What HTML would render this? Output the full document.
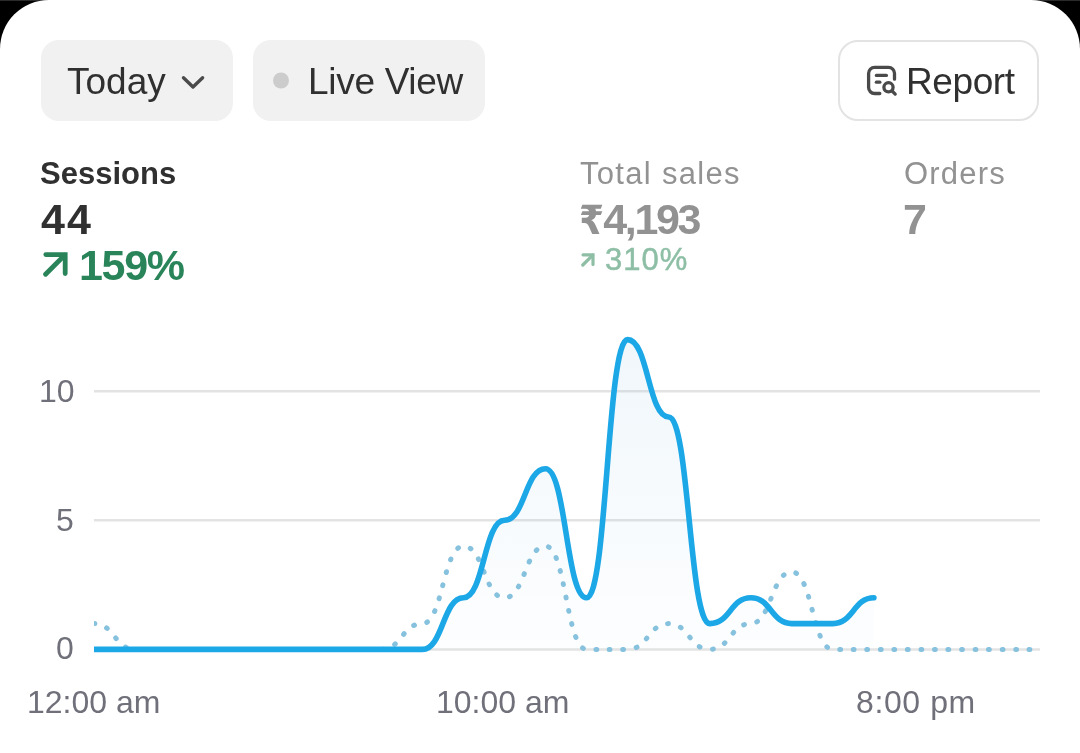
<!DOCTYPE html>
<html lang="en">
<head>
<meta charset="utf-8">
<title>Analytics</title>
<style>
*{box-sizing:border-box;margin:0;padding:0}
html,body{width:1080px;height:753px;overflow:hidden;background:#000}
body{background:linear-gradient(#2b2b2b 0,#2b2b2b 1px,#000 1px,#000 100%)}
body{font-family:"Liberation Sans","DejaVu Sans",sans-serif;color:#303030;position:relative}
.card{position:absolute;left:0;top:0;width:1080px;height:753px;background:#fff;border-radius:49px 49px 0 0;overflow:hidden}
.btn{position:absolute;top:40px;height:81px;background:#f1f1f1;border-radius:18px}
.t{position:absolute;white-space:nowrap;line-height:1}
.b{font-size:37px;top:63px;color:#303030}
.lab{font-size:31px;top:158px}
.val{font-size:43px;font-weight:bold;top:198px}
.gray{color:#929292}
.axis{font-size:32px;color:#70707b}
svg{position:absolute;left:0;top:0}
</style>
</head>
<body>
<div class="card">
  <div class="btn" style="left:41px;width:192px"></div>
  <div class="btn" style="left:253px;width:232px"></div>
  <div class="btn" style="left:838px;width:201px;background:#fff;border:2px solid #e3e3e3;border-radius:20px"></div>
  <div class="t b" id="today" style="left:67px">Today</div>
  <div class="t b" id="live" style="left:308px;letter-spacing:-0.3px">Live View</div>
  <div class="t b" id="report" style="left:906px;letter-spacing:-0.4px">Report</div>

  <div class="t lab" id="sessions" style="left:40px;font-weight:bold">Sessions</div>
  <div class="t val" id="v44" style="left:41px;letter-spacing:2px">44</div>
  <div class="t" id="p159" style="left:79px;top:244px;font-size:43px;font-weight:bold;color:#29845a;letter-spacing:-1.3px">159%</div>

  <div class="t lab gray" id="total" style="left:580px;letter-spacing:1.3px">Total sales</div>
  <div class="t val gray" id="v4193" style="left:579px;letter-spacing:-2.4px"><span style="display:inline-block;font-family:'DejaVu Sans',sans-serif;font-size:40px;letter-spacing:0;transform:scaleX(0.9);transform-origin:0 50%;margin-right:-3.5px">₹</span>4,193</div>
  <div class="t" id="p310" style="left:605px;top:244px;font-size:31px;color:#8ebfa6;letter-spacing:1px;-webkit-text-stroke:0.5px #8ebfa6">310%</div>

  <div class="t lab gray" id="orders" style="left:904px;letter-spacing:1.2px">Orders</div>
  <div class="t val gray" id="v7" style="left:903px">7</div>

  <svg width="1080" height="753" viewBox="0 0 1080 753">
    <defs>
      <linearGradient id="ar" x1="0" y1="339" x2="0" y2="649" gradientUnits="userSpaceOnUse">
        <stop offset="0" stop-color="#64aad7" stop-opacity="0.095"/><stop offset="1" stop-color="#64aad7" stop-opacity="0.015"/>
      </linearGradient>
      <clipPath id="cp"><rect x="94" y="300" width="960" height="360"/></clipPath>
    </defs>
    <!-- icons -->
    <path d="M183.5 77.8 L193 87 L202.6 77.8" fill="none" stroke="#4a4a4a" stroke-width="3.4" stroke-linecap="round" stroke-linejoin="round"/>
    <circle cx="281" cy="80.5" r="8" fill="#cccccc"/>
    <g fill="none" stroke="#4a4a4a" stroke-width="3.3" stroke-linecap="round" stroke-linejoin="round">
      <path d="M879.8 93.5 H874.6 A6 6 0 0 1 868.6 87.5 V73.3 A6 6 0 0 1 874.6 67.3 H888.5 A6 6 0 0 1 894.5 73.3 V79.2"/>
      <path d="M876.4 75.4 H886.4"/>
      <path d="M876.4 82.2 H879.8"/>
      <circle cx="888.5" cy="87.3" r="4.6"/>
      <path d="M892 90.8 L895.2 94.1"/>
    </g>
    <g fill="none" stroke="#29845a" stroke-width="4.8" stroke-linecap="round" stroke-linejoin="miter">
      <path d="M45.8 254.6 H65.2 V273.5"/><path d="M64.5 255.3 L45.6 274.2"/>
    </g>
    <g fill="none" stroke="#8ebfa6" stroke-width="3.2" stroke-linecap="round" stroke-linejoin="miter">
      <path d="M583 254.8 H593 V264.5"/><path d="M592.5 255.3 L582.8 265"/>
    </g>
    <!-- chart -->
    <g stroke="#e3e3e3" stroke-width="2.5">
      <path d="M94 391.2 H1040"/><path d="M94 520.3 H1040"/><path d="M94 649.4 H1040"/>
    </g>
    <g clip-path="url(#cp)">
    <path d="M94.0 649.4 C114.5 649.4 114.5 649.4 135.1 649.4 C155.6 649.4 155.6 649.4 176.1 649.4 C196.6 649.4 196.6 649.4 217.1 649.4 C237.7 649.4 237.7 649.4 258.2 649.4 C278.7 649.4 278.7 649.4 299.2 649.4 C319.8 649.4 319.8 649.4 340.3 649.4 C360.8 649.4 360.8 649.4 381.3 649.4 C401.9 649.4 401.9 649.4 422.4 649.4 C442.9 649.4 442.9 597.8 463.4 597.8 C484.0 597.8 484.0 520.3 504.5 520.3 C525.0 520.3 525.0 468.7 545.5 468.7 C566.1 468.7 566.1 597.8 586.6 597.8 C607.1 597.8 607.1 339.6 627.6 339.6 C648.2 339.6 648.2 417.0 668.7 417.0 C689.2 417.0 689.2 623.6 709.8 623.6 C730.3 623.6 730.3 597.8 750.8 597.8 C771.3 597.8 771.3 623.6 791.8 623.6 C812.4 623.6 812.4 623.6 832.9 623.6 C853.4 623.6 853.4 597.8 873.9 597.8 L873.9 649.4 L94.0 649.4 Z" fill="url(#ar)"/>
    <path d="M94.0 623.6 C114.5 623.6 114.5 649.4 135.1 649.4 C155.6 649.4 155.6 649.4 176.1 649.4 C196.6 649.4 196.6 649.4 217.1 649.4 C237.7 649.4 237.7 649.4 258.2 649.4 C278.7 649.4 278.7 649.4 299.2 649.4 C319.8 649.4 319.8 649.4 340.3 649.4 C360.8 649.4 360.8 649.4 381.3 649.4 C401.9 649.4 401.9 623.6 422.4 623.6 C442.9 623.6 442.9 546.1 463.4 546.1 C484.0 546.1 484.0 597.8 504.5 597.8 C525.0 597.8 525.0 546.1 545.5 546.1 C566.1 546.1 566.1 649.4 586.6 649.4 C607.1 649.4 607.1 649.4 627.6 649.4 C648.2 649.4 648.2 623.6 668.7 623.6 C689.2 623.6 689.2 649.4 709.8 649.4 C730.3 649.4 730.3 623.6 750.8 623.6 C771.3 623.6 771.3 571.9 791.8 571.9 C812.4 571.9 812.4 649.4 832.9 649.4 C853.4 649.4 853.4 649.4 873.9 649.4 C894.5 649.4 894.5 649.4 915.0 649.4 C935.5 649.4 935.5 649.4 956.0 649.4 C976.6 649.4 976.6 649.4 997.1 649.4 C1017.6 649.4 1017.6 649.4 1038.2 649.4" fill="none" stroke="#86c1de" stroke-width="5" stroke-linecap="round" stroke-dasharray="0.8 12.73"/>
    <path d="M94.0 649.4 C114.5 649.4 114.5 649.4 135.1 649.4 C155.6 649.4 155.6 649.4 176.1 649.4 C196.6 649.4 196.6 649.4 217.1 649.4 C237.7 649.4 237.7 649.4 258.2 649.4 C278.7 649.4 278.7 649.4 299.2 649.4 C319.8 649.4 319.8 649.4 340.3 649.4 C360.8 649.4 360.8 649.4 381.3 649.4 C401.9 649.4 401.9 649.4 422.4 649.4 C442.9 649.4 442.9 597.8 463.4 597.8 C484.0 597.8 484.0 520.3 504.5 520.3 C525.0 520.3 525.0 468.7 545.5 468.7 C566.1 468.7 566.1 597.8 586.6 597.8 C607.1 597.8 607.1 339.6 627.6 339.6 C648.2 339.6 648.2 417.0 668.7 417.0 C689.2 417.0 689.2 623.6 709.8 623.6 C730.3 623.6 730.3 597.8 750.8 597.8 C771.3 597.8 771.3 623.6 791.8 623.6 C812.4 623.6 812.4 623.6 832.9 623.6 C853.4 623.6 853.4 597.8 873.9 597.8" fill="none" stroke="#1ca7e7" stroke-width="5.6" stroke-linecap="round" stroke-linejoin="round"/>
    </g>
  </svg>

  <div class="t axis" id="a10" style="left:39px;top:375px">10</div>
  <div class="t axis" id="a5" style="left:56px;top:504px">5</div>
  <div class="t axis" id="a0" style="left:56px;top:632px">0</div>
  <div class="t axis" id="a1200" style="left:27px;top:686px">12:00 am</div>
  <div class="t axis" id="a1000" style="left:436px;top:686px">10:00 am</div>
  <div class="t axis" id="a800" style="left:856px;top:686px;letter-spacing:0.6px">8:00 pm</div>
</div>
</body>
</html>
